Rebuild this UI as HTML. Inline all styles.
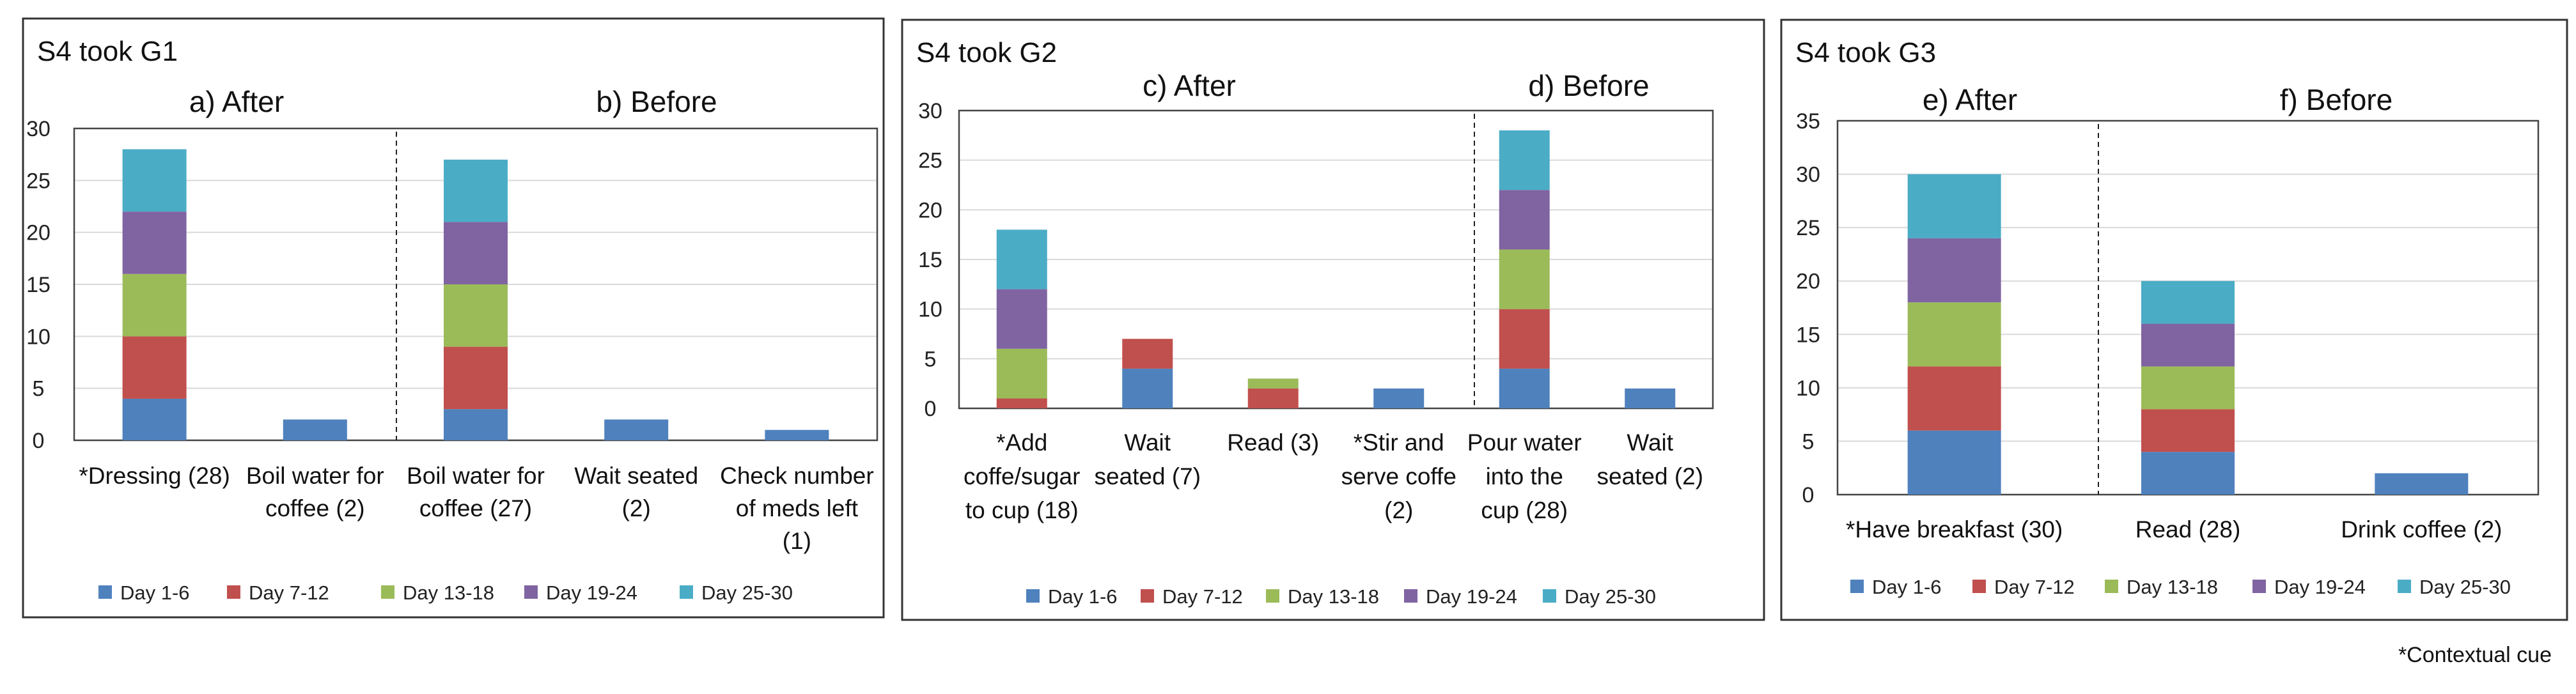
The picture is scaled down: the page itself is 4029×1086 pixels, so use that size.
<!DOCTYPE html>
<html><head><meta charset="utf-8"><style>
html,body{margin:0;padding:0;background:#fff;}
svg{display:block;font-family:"Liberation Sans",sans-serif;}
</style></head><body>
<svg id="chart" width="4029" height="1086" viewBox="0 0 4029 1086" xmlns="http://www.w3.org/2000/svg">
<text x="3991" y="1036" font-size="34" text-anchor="end" fill="#111">*Contextual cue</text>
</svg>
<script>
const seriesNames = ["Day 1-6","Day 7-12","Day 13-18","Day 19-24","Day 25-30"];
const seriesColors = ["#4F81BD","#C0504D","#9BBB59","#8064A2","#4BACC6"];

const g1Categories = [["*Dressing (28)"],["Boil water for","coffee (2)"],["Boil water for","coffee (27)"],["Wait seated","(2)"],["Check number","of meds left","(1)"]];
const g1Day1 = [4,2,3,2,1];
const g1Day7 = [6,0,6,0,0];
const g1Day13 = [6,0,6,0,0];
const g1Day19 = [6,0,6,0,0];
const g1Day25 = [6,0,6,0,0];
const g1Ticks = [0,5,10,15,20,25,30];

const g2Categories = [["*Add","coffe/sugar","to cup (18)"],["Wait","seated (7)"],["Read (3)"],["*Stir and","serve coffe","(2)"],["Pour water","into the","cup (28)"],["Wait","seated (2)"]];
const g2Day1 = [0,4,0,2,4,2];
const g2Day7 = [1,3,2,0,6,0];
const g2Day13 = [5,0,1,0,6,0];
const g2Day19 = [6,0,0,0,6,0];
const g2Day25 = [6,0,0,0,6,0];
const g2Ticks = [0,5,10,15,20,25,30];

const g3Categories = [["*Have breakfast (30)"],["Read (28)"],["Drink coffee (2)"]];
const g3Day1 = [6,4,2];
const g3Day7 = [6,4,0];
const g3Day13 = [6,4,0];
const g3Day19 = [6,4,0];
const g3Day25 = [6,4,0];
const g3Ticks = [0,5,10,15,20,25,30,35];

const NS="http://www.w3.org/2000/svg";
const svg=document.getElementById('chart');
function mk(tag,attrs,parent){const e=document.createElementNS(NS,tag);for(const k in attrs)e.setAttribute(k,attrs[k]);(parent||svg).appendChild(e);return e;}

const panels=[
 {id:"g1",title:"S4 took G1",box:[36,29,1382,966],plot:[116,201,1372,689],ymax:30,ticks:g1Ticks,cats:g1Categories,
  series:[g1Day1,g1Day7,g1Day13,g1Day19,g1Day25],barW:100,divider:620,
  heads:[["a) After",370,175],["b) Before",1027,175]],labelY:757,lineH:51,
  legendY:927,legendX:[154,355,596,820,1063],tickX:60},
 {id:"g2",title:"S4 took G2",box:[1411,31,2759,970],plot:[1500,173,2679,639],ymax:30,ticks:g2Ticks,cats:g2Categories,
  series:[g2Day1,g2Day7,g2Day13,g2Day19,g2Day25],barW:79,divider:2306,
  heads:[["c) After",1860,150],["d) Before",2485,150]],labelY:705,lineH:53,
  legendY:933,legendX:[1605,1784,1980,2196,2413],tickX:1455},
 {id:"g3",title:"S4 took G3",box:[2786,31,4015,970],plot:[2874,189,3970,774],ymax:35,ticks:g3Ticks,cats:g3Categories,
  series:[g3Day1,g3Day7,g3Day13,g3Day19,g3Day25],barW:146,divider:3282,
  heads:[["e) After",3081,172],["f) Before",3654,172]],labelY:841,lineH:51,
  legendY:918,legendX:[2894,3085,3292,3523,3750],tickX:2828}
];

panels.forEach(p=>{
 const g=mk('g',{});
 
 
 const [bx0,by0,bx1,by1]=p.box;
 const box=mk('rect',{x:bx0,y:by0,width:bx1-bx0,height:by1-by0,fill:'none',stroke:'#333','stroke-width':3},g);
 
 
 const t=mk('text',{x:bx0+22,y:by0+66,'font-size':44,fill:'#111'},g);t.textContent=p.title;
 
 
 p.heads.forEach(h=>{const e=mk('text',{x:h[1],y:h[2],'font-size':46,'text-anchor':'middle',fill:'#111'},g);e.textContent=h[0];
  
  });
 const [px0,py0,px1,py1]=p.plot;
 const y=v=>py1-(v/p.ymax)*(py1-py0);
 const n=p.cats.length, step=(px1-px0)/n;
 const xc=i=>px0+step*(i+0.5);
 p.ticks.forEach(v=>{
  const l=mk('line',{x1:px0,x2:px1,y1:y(v),y2:y(v),stroke:'#d9d9d9','stroke-width':2},g);
  
  
  const tl=mk('text',{x:p.tickX,y:y(v)+12,'font-size':34,'text-anchor':'middle',fill:'#222'},g);tl.textContent=v;
  
  
 });
 const pr=mk('rect',{x:px0,y:py0,width:px1-px0,height:py1-py0,fill:'none',stroke:'#444','stroke-width':2.5},g);
 
 
 const d=mk('line',{x1:p.divider,x2:p.divider,y1:py0+5,y2:py1,stroke:'#222','stroke-width':2,'stroke-dasharray':'8,6'},g);
 
 
 for(let i=0;i<n;i++){
  let acc=0;
  p.series.forEach((s,k)=>{
   const v=s[i]; if(!v){return;}
   const r=mk('rect',{x:xc(i)-p.barW/2,y:y(acc+v),width:p.barW,height:y(acc)-y(acc+v),fill:seriesColors[k]},g);
   
   
   acc+=v;
  });
  p.cats[i].forEach((line,j)=>{
   const c=mk('text',{x:xc(i),y:p.labelY+j*p.lineH,'font-size':37,'text-anchor':'middle',fill:'#111'},g);c.textContent=line;
   
   
  });
 }
 seriesNames.forEach((nm,k)=>{
  const lx=p.legendX[k];
  const sq=mk('rect',{x:lx,y:p.legendY-11,width:21,height:21,fill:seriesColors[k]},g);
  
  
  const lt=mk('text',{x:lx+34,y:p.legendY+11,'font-size':31,fill:'#222'},g);lt.textContent=nm;
  
  
 });
});
</script>
</body></html>
